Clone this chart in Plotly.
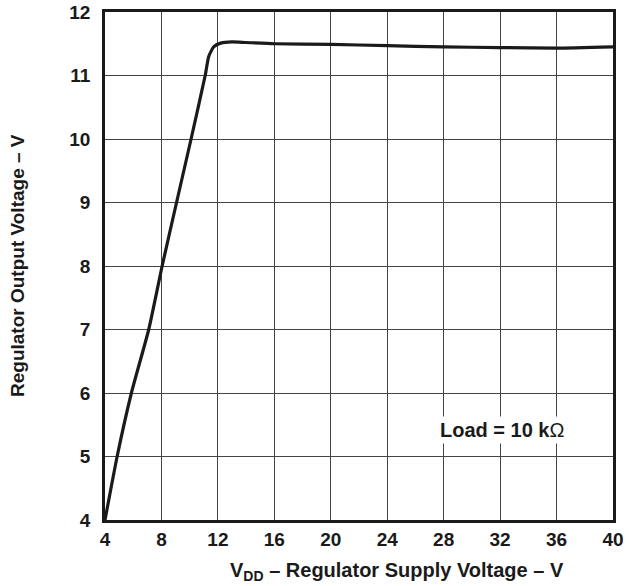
import plotly.graph_objects as go

vdd = [4, 4.86, 5.87, 7.1, 8.05, 9.07, 10.1, 11.1, 11.35, 11.7, 12.2, 13, 14, 16, 20, 24, 28, 32, 36, 40]
vout = [4, 5, 6, 7, 8, 9, 10, 11, 11.3, 11.45, 11.51, 11.53, 11.52, 11.5, 11.49, 11.47, 11.45, 11.44, 11.43, 11.45]

x_ticks = [4, 8, 12, 16, 20, 24, 28, 32, 36, 40]
y_ticks = [4, 5, 6, 7, 8, 9, 10, 11, 12]

FONT = "Liberation Sans, Arial, sans-serif"
L, R, T, B = 105, 16, 12, 66
W, H = 629, 586

fig = go.Figure()
fig.add_trace(go.Scatter(
    x=vdd, y=vout, mode="lines",
    line=dict(color="#1a1a1a", width=3.2, shape="spline", smoothing=0.5),
    showlegend=False, hoverinfo="skip",
))

tickfont = dict(family=FONT, size=19, color="#1a1a1a", weight="bold")
fig.update_layout(
    width=W, height=H,
    margin=dict(l=L, r=R, t=T, b=B, autoexpand=False),
    paper_bgcolor="white", plot_bgcolor="white",
    font=dict(family=FONT, color="#1a1a1a"),
    xaxis=dict(
        range=[4, 40], tickvals=x_ticks, ticktext=[f"<b>{v}</b>" for v in x_ticks],
        showgrid=True, gridcolor="#444444", gridwidth=1,
        showline=True, linecolor="#1a1a1a", linewidth=2.5, mirror=True,
        zeroline=False, ticks="", ticklen=0, ticklabelstandoff=0, automargin=False,
        tickfont=tickfont,
    ),
    yaxis=dict(
        range=[4, 12], tickvals=y_ticks, ticktext=[f"<b>{v}</b>" for v in y_ticks],
        showgrid=True, gridcolor="#444444", gridwidth=1,
        showline=True, linecolor="#1a1a1a", linewidth=2.5, mirror=True,
        zeroline=False, ticks="", ticklen=0, ticklabelstandoff=8, automargin=False,
        tickfont=tickfont,
    ),
)

def px_ann(text, x, y, size, angle=0, bg=None):
    d = dict(text=text, x=(x - L) / (W - L - R), y=1 - (y - T) / (H - T - B),
             xref="paper", yref="paper", showarrow=False, textangle=angle,
             font=dict(family=FONT, size=size, color="#1a1a1a"),
             xanchor="center", yanchor="middle")
    if bg:
        d.update(bgcolor=bg, borderpad=2)
    fig.add_annotation(**d)

px_ann("<b>Load = 10 k</b>Ω", 502, 430, 20, bg="white")
px_ann("<b>V<sub>DD</sub> – Regulator Supply Voltage – V</b>", 397, 571, 20)
px_ann("<b>Regulator Output Voltage – V</b>", 17, 266, 19, angle=-90)

fig.write_html("out.html", config={"displayModeBar": False},
               post_script="document.body.style.margin='0';document.body.style.overflow='hidden';")
